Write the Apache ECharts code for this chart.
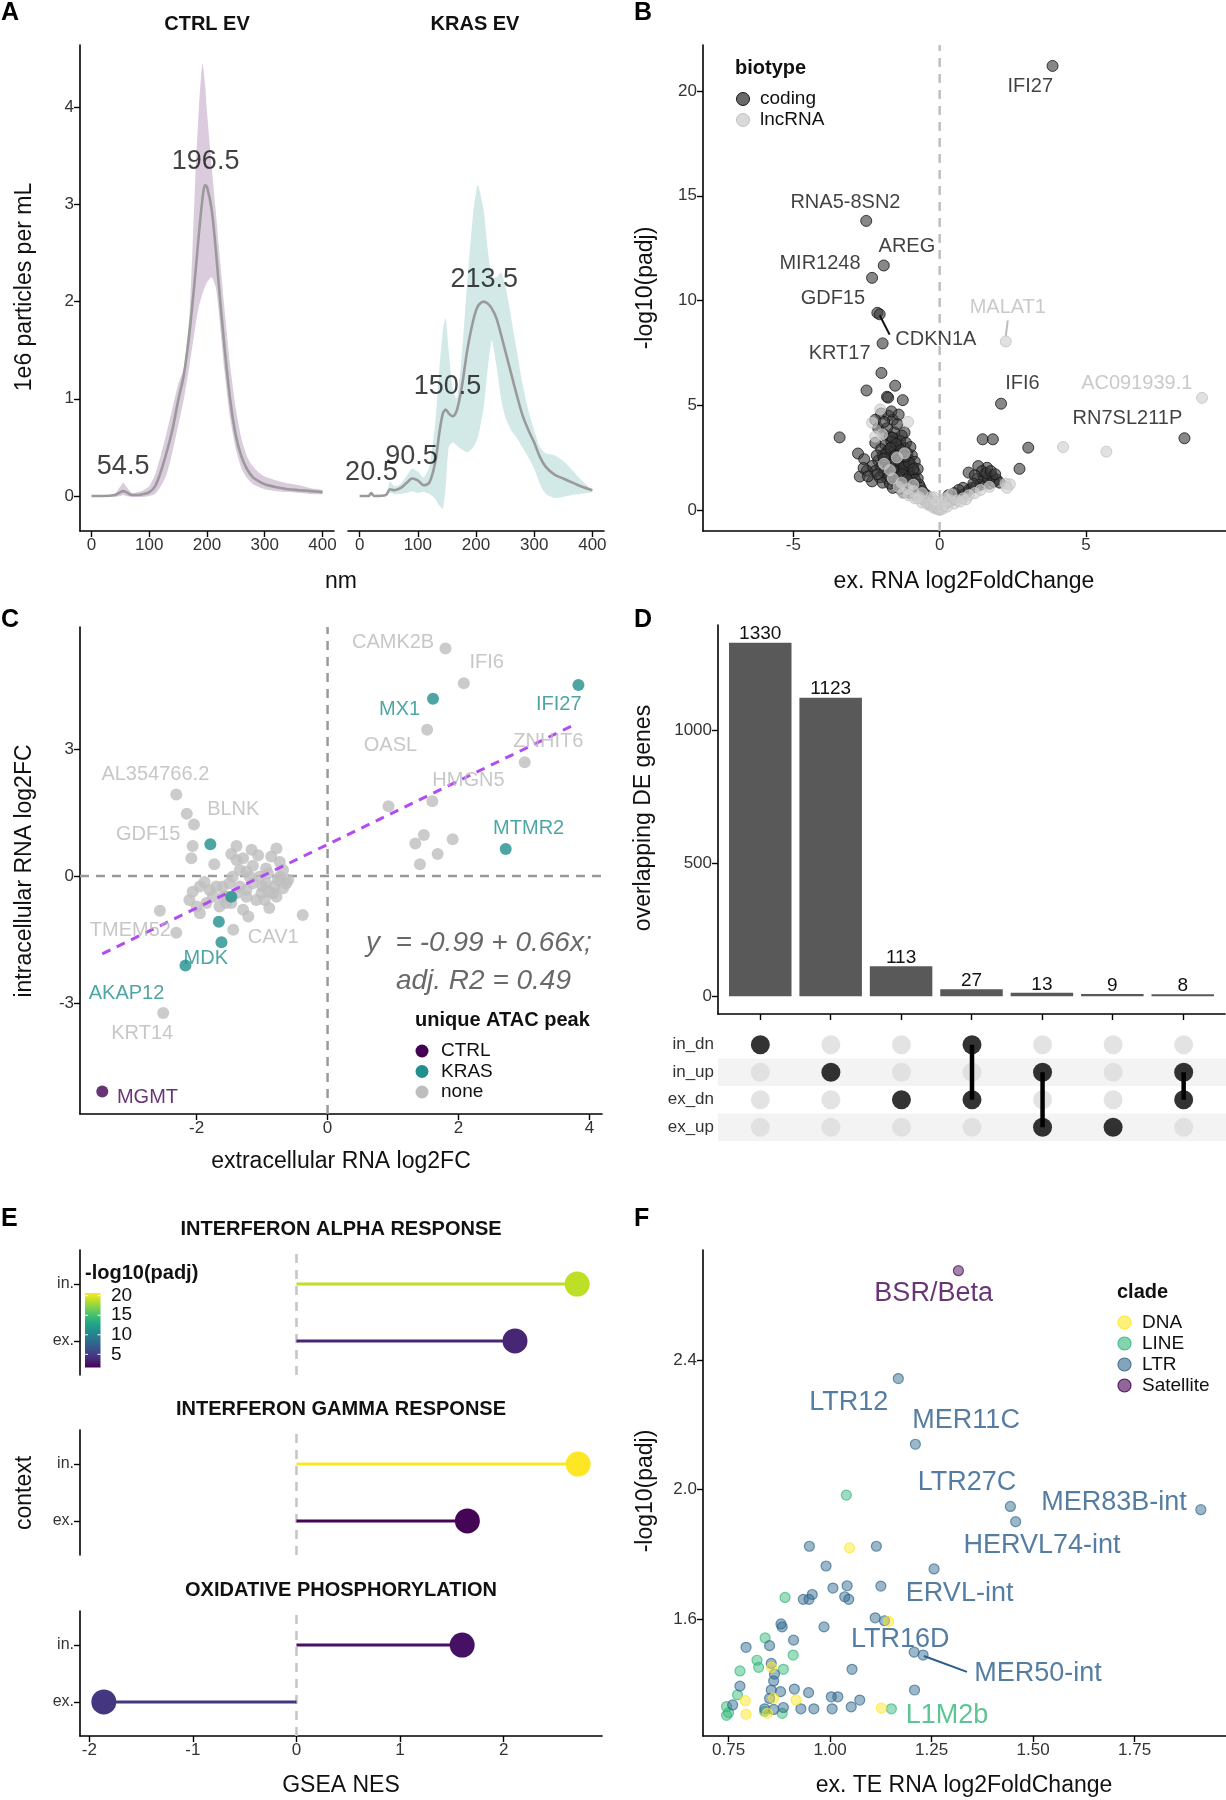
<!DOCTYPE html>
<html><head><meta charset="utf-8">
<script src="https://cdn.jsdelivr.net/npm/echarts@6/dist/echarts.min.js"></script>
<style>html,body{margin:0;padding:0;background:#fff}#c{width:1226px;height:1800px}</style>
</head><body><div id="c"></div><script>
const FONT = '"Liberation Sans", Arial, Helvetica, sans-serif';

// ---------- Panel A : particle size distributions ----------
const ctrlX    = [0,20,40,50,55,60,70,80,90,100,110,120,130,140,150,160,170,180,186,192,196.5,200,208,215,220,230,240,250,260,270,280,290,300,320,340,360,380,400];
const ctrlMean = [0,0,0.01,0.04,0.05,0.04,0.01,0.01,0.02,0.04,0.1,0.25,0.45,0.68,0.98,1.25,1.7,2.3,2.7,3.05,3.2,3.18,2.95,2.55,2.2,1.55,1.0,0.62,0.4,0.27,0.19,0.15,0.12,0.09,0.07,0.06,0.05,0.04];
const ctrlLow  = [0,0,-0.01,0,0.01,0,-0.01,-0.01,-0.01,0,0.02,0.1,0.22,0.45,0.72,1.0,1.35,1.75,1.95,2.08,2.15,2.2,2.25,2.15,1.92,1.3,0.8,0.48,0.28,0.18,0.12,0.09,0.07,0.05,0.04,0.03,0.02,0.02];
const ctrlUp   = [0,0,0.02,0.1,0.14,0.1,0.03,0.04,0.06,0.1,0.22,0.42,0.65,0.9,1.15,1.32,1.9,3.3,4.0,4.45,4.25,3.95,3.4,2.95,2.6,1.95,1.35,0.9,0.58,0.4,0.3,0.24,0.2,0.16,0.13,0.11,0.08,0.06];
const krasX    = [0,15,20,25,45,52,60,70,80,90,100,110,120,130,137,143,148,153,160,167,175,185,195,203,213,220,227,235,243,250,260,270,280,290,300,310,320,335,350,365,380,400];
const krasMean = [0,0,0.03,0,0.01,0.07,0.06,0.08,0.13,0.18,0.16,0.11,0.14,0.35,0.65,0.85,0.89,0.85,0.82,0.88,1.1,1.5,1.8,1.95,2.0,1.98,1.93,1.83,1.66,1.5,1.27,1.04,0.83,0.68,0.55,0.4,0.3,0.22,0.18,0.14,0.1,0.06];
const krasLow  = [0,0,0,0,0,0.03,0.02,0.02,0.03,0.05,0.03,0.04,0.02,-0.03,-0.1,-0.13,0.1,0.5,0.55,0.52,0.48,0.45,0.5,0.6,0.9,1.3,1.6,1.35,1.0,0.82,0.68,0.6,0.5,0.4,0.28,0.12,0.02,-0.02,-0.01,0.01,0.02,0.04];
const krasUp   = [0,0,0.05,0,0.01,0.15,0.1,0.12,0.2,0.28,0.25,0.19,0.3,0.75,1.3,1.7,1.83,1.5,1.1,1.0,1.4,2.2,2.9,3.2,2.95,2.55,2.25,2.25,2.3,2.18,1.85,1.5,1.15,0.88,0.68,0.5,0.44,0.42,0.36,0.27,0.17,0.06];
const ctrlPeaks = [['54.5',54.7,0.30],['196.5',197.6,3.44]];
const krasPeaks = [['20.5',20.2,0.24],['90.5',89.2,0.41],['150.5',151.1,1.125],['213.5',214.1,2.23]];
const aXTicks = [0,100,200,300,400];
const aYTicks = [0,1,2,3,4];

// ---------- Panel B : volcano ----------
const bCoding = [
 [3.86,21.2],[-2.51,13.8],[-1.91,11.67],[-2.31,11.08],[-2.13,9.41],[-2.05,9.34],[-1.95,7.95],
 [2.1,5.07],[8.37,3.42],[-1.99,6.54],[-1.52,5.93],[-2.5,5.7],[-1.8,5.4],[-1.76,5.36],[-1.26,5.24],
 [-3.42,3.46],[1.47,3.37],[1.82,3.37],[3.03,2.97],[2.73,1.96],
 [-2.0,4.6],[-1.75,4.5],[-1.6,4.3],[-1.45,4.1],[-2.1,3.9],[-1.2,3.7],[-1.9,3.6],[-1.7,3.5],[-1.5,3.4],[-1.35,3.3],
 [-2.2,3.2],[-1.85,3.1],[-1.6,3.05],[-1.4,3.0],[-1.2,2.95],[-2.0,2.9],[-1.75,2.85],[-1.55,2.8],[-1.3,2.75],[-1.1,2.7],
 [-2.79,2.69],[-2.58,2.42],[-1.95,2.6],[-1.7,2.55],[-1.45,2.5],[-1.25,2.45],[-1.05,2.4],[-2.1,2.35],[-1.85,2.3],[-1.6,2.25],
 [-1.4,2.2],[-1.15,2.15],[-0.95,2.1],[-2.3,2.1],[-2.0,2.05],[-1.75,2.0],[-1.5,1.95],[-1.3,1.9],[-1.05,1.85],[-0.85,1.8],
 [-2.2,1.85],[-1.9,1.8],[-1.65,1.75],[-1.4,1.7],[-1.2,1.65],[-0.95,1.6],[-0.75,1.5],[-2.49,1.87],[-2.73,1.59],[-2.31,1.36],
 [-2.05,1.55],[-1.8,1.5],[-1.55,1.45],[-1.3,1.4],[-1.1,1.35],[-0.9,1.3],[-0.7,1.2],[-1.95,1.3],[-1.7,1.25],[-1.45,1.2],
 [-1.2,1.15],[-1.0,1.1],[-0.8,1.0],[-0.6,0.9],[-1.6,1.05],[-1.35,1.0],[-1.1,0.95],[-0.9,0.85],[-0.7,0.75],[-0.5,0.65],
 [-1.25,0.85],[-1.0,0.8],[-0.8,0.7],[-0.6,0.6],[-0.4,0.5],[-0.3,0.35],[-0.2,0.25],[-0.5,0.45],[-0.35,0.3],[-0.15,0.15],
 [-0.1,0.1],[-1.55,3.7],[-1.3,3.55],[-1.8,3.9],[-1.65,4.7],[-1.4,4.55],[-2.2,4.3],[-1.9,4.2],[-1.35,2.1],[-1.15,3.2],
 [-0.95,2.6],[-1.0,3.0],[-0.85,2.3],[-0.75,1.95],[-2.6,2.0],[-2.45,1.6],[-1.65,3.25],[-1.45,2.65],[-1.25,2.3],[-1.55,2.05],
 [-1.85,2.65],[-2.15,2.6],[-1.05,1.6],[-0.85,1.45],[-0.65,1.05],[-0.55,0.8],[-0.45,0.7],
 [-1.62,3.45],[-1.48,3.15],[-1.33,2.85],[-1.68,2.95],[-1.52,2.6],[-1.38,2.35],[-1.22,2.05],[-1.68,2.15],[-1.9,2.45],
 [-1.58,1.85],[-1.42,1.55],[-1.28,1.7],[-1.12,1.45],[-1.72,1.6],[-2.12,1.7],[-1.05,2.25],[-0.9,1.95],[-1.18,2.55],
 [0.1,0.15],[0.2,0.3],[0.3,0.4],[0.45,0.5],[0.6,0.6],[0.75,0.7],[0.9,0.8],[1.0,0.95],[1.1,1.05],[1.25,1.1],
 [1.4,1.2],[1.55,1.3],[1.7,1.25],[1.85,1.35],[1.3,1.5],[1.5,1.6],[1.65,1.55],[1.8,1.6],[0.99,1.78],[1.32,2.09],
 [1.62,2.01],[1.45,1.85],[1.2,1.65],[1.95,1.45],[0.5,0.8],[0.3,0.7],[0.8,1.05],[2.05,1.3],[1.6,1.75],[1.15,1.25],
 [0.65,0.95],[1.75,1.85],[1.9,1.7]
];
const bLnc = [
 [2.26,8.04],[8.97,5.35],[4.22,3.0],[5.7,2.78],
 [-2.03,4.8],[-2.31,4.16],[-1.08,4.2],[-1.97,3.6],[-1.46,2.5],[-1.9,2.2],[-1.7,1.9],[-1.3,1.3],[-1.6,1.5],[-1.1,1.0],
 [-0.9,0.9],[-1.05,0.7],[-0.7,0.6],[-0.85,0.55],[-0.5,0.4],[-0.6,0.35],[-0.4,0.25],[-0.3,0.2],[-0.2,0.1],[-0.1,0.05],
 [0,0],[0,0.02],[0.05,0.1],[0.1,0.05],[0.15,0.2],[-0.05,0.3],[0.2,0.55],[-0.2,0.6],[0.35,0.45],[0.5,0.3],
 [0.6,0.45],[0.8,0.55],[1.0,0.7],[0.9,0.5],[1.2,0.8],[1.4,0.95],[2.25,1.25],[2.4,1.22],[2.3,1.05],[1.7,1.1],
 [-1.2,2.7],[-2.2,3.5],[-0.6,0.8],[-0.3,0.6],[0.1,0.4],[0.4,0.75],[-1.4,1.1],[-0.9,1.2],[-1.25,0.8],[-0.75,0.55],
 [0.7,0.4],[-0.15,0.4],[0.25,0.15]
];
const bLabels = [
 ['IFI27',3.1,20.2,'coding'],['RNA5-8SN2',-3.22,14.7,'coding'],['AREG',-1.12,12.6,'coding'],
 ['MIR1248',-4.09,11.76,'coding'],['GDF15',-3.65,10.1,'coding'],['CDKN1A',-0.13,8.15,'coding'],
 ['KRT17',-3.42,7.45,'coding'],['MALAT1',2.33,9.65,'lncRNA'],['IFI6',2.83,6.03,'coding'],
 ['AC091939.1',6.74,6.04,'lncRNA'],['RN7SL211P',6.42,4.34,'coding']
];
const bLeaders = [[[-2.05,9.29],[-1.71,8.37],'coding'],[[2.33,9.05],[2.26,8.3],'lncRNA']];
const bXTicks = [-5,0,5];
const bYTicks = [0,5,10,15,20];

// ---------- Panel C : ex vs in log2FC ----------
const cNone = [
 [-2.31,1.93],[-2.15,1.47],[-2.04,1.22],[-2.06,0.71],[-2.08,0.42],[-1.73,0.28],[-1.39,0.71],[-1.47,0.52],[-1.29,0.42],
 [-1.06,0.49],[-0.78,0.65],[-0.86,0.46],[-1.14,0.24],[-1.24,0.10],[-0.94,0.18],[-1.04,-0.02],[-0.73,-0.02],[-0.81,-0.25],
 [-0.68,-0.29],[-1.14,-0.17],[-1.24,-0.33],[-1.01,-0.41],[-0.89,-0.37],[-0.78,-0.49],[-1.09,-0.57],[-1.24,-0.49],
 [-1.34,-0.25],[-1.5,-0.17],[-1.6,-0.25],[-1.55,-0.49],[-1.88,-0.14],[-1.95,-0.25],[-2.06,-0.37],[-2.11,-0.57],
 [-2.0,-0.72],[-1.95,-0.88],[-1.75,-0.49],[-1.85,-0.64],[-1.65,-0.72],[-1.55,-0.64],[-1.29,-0.80],[-1.21,-0.96],
 [-0.89,-0.76],[-1.44,-1.27],[-0.38,-0.92],[-2.56,-0.82],[-2.31,-1.34],[-1.34,0.14],[-1.45,-0.02],[-0.68,0.14],
 [-1.39,0.38],[-1.16,0.62],[-0.6,-0.09],[-0.76,-0.09],[-0.94,-0.17],[-0.99,-0.25],[-0.63,-0.17],[-1.19,-0.02],
 [-0.73,0.33],[-0.91,0.06],[-0.83,-0.41],[-0.96,-0.57],[-1.6,-0.49],[-1.7,-0.25],[-1.8,-0.33],[-1.47,-0.64],[-1.39,-0.41],
 [1.8,5.38],[2.08,4.56],[1.52,3.46],[3.01,2.69],[1.6,1.77],[0.93,1.65],[1.47,0.97],[1.34,0.77],[1.91,0.87],[1.68,0.52],[1.41,0.28],
 [-2.51,-3.24]
];
const cKras = [[-1.47,-0.49],[-1.79,0.75],[-1.66,-1.08],[-1.62,-1.57],[-2.17,-2.12],[3.83,4.52],[1.61,4.19],[2.72,0.64]];
const cCtrl = [[-3.44,-5.1]];
const cLabels = [
 ['CAMK2B',1.0,5.52,'none'],['IFI6',2.43,5.04,'none'],['MX1',1.10,3.94,'KRAS'],['IFI27',3.53,4.05,'KRAS'],
 ['OASL',0.96,3.08,'none'],['ZNHIT6',3.37,3.18,'none'],['HMGN5',2.15,2.26,'none'],['MTMR2',3.07,1.13,'KRAS'],
 ['AL354766.2',-2.63,2.4,'none'],['BLNK',-1.44,1.58,'none'],['GDF15',-2.74,0.98,'none'],['TMEM52',-3.01,-1.29,'none'],
 ['CAV1',-0.83,-1.46,'none'],['MDK',-1.86,-1.95,'KRAS'],['AKAP12',-3.07,-2.77,'KRAS'],['KRT14',-2.83,-3.73,'none'],
 ['MGMT',-2.75,-5.23,'CTRL']
];
const cFitLine = [[-3.44,-1.84],[3.77,3.58]];
const cEquation = [['y  = -0.99 + 0.66x;',2.31,-1.58],['adj. R2 = 0.49',2.38,-2.48]];
const cXTicks = [-2,0,2,4];
const cYTicks = [-3,0,3];

// ---------- Panel D : upset ----------
const dSets = [['in_dn'],['in_up'],['ex_dn'],['in_dn','ex_dn'],['in_up','ex_up'],['ex_up'],['in_up','ex_dn']];
const dCounts = [1330,1123,113,27,13,9,8];
const dRows = ['ex_up','ex_dn','in_up','in_dn'];
const dYTicks = [0,500,1000];

// ---------- Panel E : GSEA lollipops ----------
const eTerms = ['INTERFERON ALPHA RESPONSE','INTERFERON GAMMA RESPONSE','OXIDATIVE PHOSPHORYLATION'];
const eContext = ['ex.','in.'];
const eNesIn  = [2.71,2.72,1.60];
const eNesEx  = [2.11,1.65,-1.86];
const ePadjIn = [18.8,20.7,2.5];
const ePadjEx = [3.6,1.8,4.6];
const eXTicks = [-2,-1,0,1,2];
const eLegendTicks = [5,10,15,20];

// ---------- Panel F : TE volcano ----------
const fDNA = [[1.048,1.82],[1.144,1.593],[0.856,1.451],[0.791,1.348],[0.861,1.356],[0.916,1.35],[1.126,1.325],[0.793,1.306],[0.846,1.309]];
const fLINE = [[1.040,1.983],[0.889,1.667],[0.84,1.542],[0.909,1.489],[0.82,1.473],[0.824,1.451],[0.778,1.44],[0.885,1.445],[0.772,1.366],[0.745,1.33],[0.75,1.311],[0.745,1.303],[0.882,1.309],[0.839,1.315],[1.151,1.323]];
const fLTR = [[1.168,2.343],[1.21,2.14],[1.444,1.948],[1.913,1.938],[1.457,1.901],[0.949,1.825],[1.114,1.825],[0.99,1.764],[1.256,1.755],
 [1.007,1.696],[1.042,1.703],[1.125,1.702],[0.934,1.661],[0.948,1.661],[0.956,1.676],[1.036,1.669],[1.046,1.661],[1.111,1.604],
 [1.134,1.595],[0.879,1.585],[0.882,1.576],[0.985,1.576],[0.793,1.513],[0.851,1.518],[0.91,1.535],[1.207,1.498],[1.229,1.489],
 [0.855,1.463],[0.863,1.43],[0.861,1.409],[1.054,1.445],[0.778,1.393],[0.878,1.376],[0.855,1.381],[0.851,1.355],[0.912,1.384],
 [0.947,1.373],[1.208,1.381],[1.003,1.36],[1.019,1.36],[1.073,1.35],[0.76,1.335],[1.052,1.329],[0.839,1.323],[0.861,1.321],
 [0.885,1.327],[0.928,1.323],[0.96,1.323],[1.005,1.323]];
const fSat = [[1.316,2.676]];
const fLabels = [['BSR/Beta',1.255,2.605,'Satellite'],['LTR12',1.046,2.27,'LTR'],['MER11C',1.335,2.214,'LTR'],
 ['LTR27C',1.337,2.022,'LTR'],['MER83B-int',1.699,1.96,'LTR'],['HERVL74-int',1.522,1.826,'LTR'],['ERVL-int',1.319,1.679,'LTR'],
 ['LTR16D',1.173,1.537,'LTR'],['MER50-int',1.512,1.433,'LTR'],['L1M2b',1.288,1.303,'LINE']];
const fLeader = [[1.231,1.486],[1.337,1.437]];
const fXTicks = [0.75,1.0,1.25,1.5,1.75];
const fYTicks = [1.6,2.0,2.4];

// ---------- styling ----------
const VIRIDIS = ['#440154','#482475','#414487','#355f8d','#2a788e','#21918c','#22a884','#44bf70','#7ad151','#bddf26','#fde725'];
const cladeColor = {DNA:'#fde725', LINE:'#35b779', LTR:'#31688e', Satellite:'#440154'};
const atacColor = {CTRL:'#440154', KRAS:'#21908c', none:'#bebebe'};
const atacLabelColor = {CTRL:'#440154', KRAS:'#21908c', none:'#b9b9b9'};
const bioFill = {coding:'rgba(55,55,55,0.75)', lncRNA:'rgba(208,208,208,0.8)'};
const bioStroke = {coding:'#151515', lncRNA:'#c2c2c2'};
const bioLabel = {coding:'#111', lncRNA:'#bdbdbd'};
function hexA(h,a){const n=parseInt(h.slice(1),16);return `rgba(${n>>16&255},${n>>8&255},${n&255},${a})`;}

const grids = [
 {left:80, top:45, width:254, height:486},
 {left:348, top:45, width:256, height:486},
 {left:703, top:45, width:523, height:486},
 {left:80, top:627, width:522, height:487},
 {left:718, top:625, width:507, height:389},
 {left:718, top:1031, width:508, height:110},
 {left:80, top:1250, width:522, height:125},
 {left:80, top:1430, width:522, height:125},
 {left:80, top:1611, width:522, height:125},
 {left:703, top:1250, width:523, height:486}
];

function vAxis(gi, min, max, ticks, o) {
  o = o || {};
  return {
    type:'value', gridIndex:gi, min:min, max:max, show:o.show !== false,
    axisLine:{show:o.line !== false, onZero:false, lineStyle:{color:'#000', width:1.6}},
    axisTick:{show:o.tick !== false, length:6, customValues:ticks, lineStyle:{color:'#000', width:1.4}},
    axisLabel:{show:o.label !== false, customValues:ticks, color:'#333', fontSize:o.fs || 17, fontFamily:FONT,
      margin:o.margin || 6, formatter:o.fmt || (v => String(v))},
    splitLine:{show:false}
  };
}

const xAxes = [
 vAxis(0,-20,420,aXTicks),
 vAxis(1,-20,420,aXTicks),
 vAxis(2,-8.09,9.79,bXTicks),
 vAxis(3,-3.78,4.19,cXTicks),
 vAxis(4,0.4,7.6,[1,2,3,4,5,6,7],{label:false}),
 vAxis(5,0.4,7.6,[],{show:false}),
 vAxis(6,-2.09,2.95,[],{show:false}),
 vAxis(7,-2.09,2.95,[],{show:false}),
 vAxis(8,-2.09,2.95,eXTicks),
 vAxis(9,0.687,1.975,fXTicks,{fmt:v=>v.toFixed(2)})
];
const yAxes = [
 vAxis(0,-0.36,4.64,aYTicks),
 vAxis(1,-0.36,4.64,[],{show:false}),
 vAxis(2,-1.01,22.2,bYTicks),
 vAxis(3,-5.63,5.89,cYTicks),
 vAxis(4,-66.5,1396.5,dYTicks),
 vAxis(5,0.5,4.5,[1,2,3,4],{line:false,tick:false,fmt:v=>dRows[v-1],margin:4}),
 vAxis(6,0.4,2.6,[1,2],{fmt:v=>eContext[v-1],fs:16}),
 vAxis(7,0.4,2.6,[1,2],{fmt:v=>eContext[v-1],fs:16}),
 vAxis(8,0.4,2.6,[1,2],{fmt:v=>eContext[v-1],fs:16}),
 vAxis(9,1.239,2.74,fYTicks,{fmt:v=>v.toFixed(1)})
];

const series = [];
function lineSeg(ai, pts, color, width, dashed, z) {
  series.push({type:'line', xAxisIndex:ai, yAxisIndex:ai, data:pts, symbol:'none', silent:true, z:z||2,
    lineStyle:{color:color, width:width, type: dashed ? [9,7] : 'solid'}, animation:false});
}
function textSeries(ai, items, size, extra) {
  series.push({type:'scatter', xAxisIndex:ai, yAxisIndex:ai, symbolSize:1, silent:true, z:10,
    itemStyle:{color:'transparent'},
    data: items.map(a => ({value:[a[1],a[2]], name:a[0], label:{color:a[3]}})),
    label:Object.assign({show:true, position:'inside', formatter:p => p.name, fontSize:size, fontFamily:FONT}, extra || {})});
}
function band(ai, xs, lo, up, fill) {
  series.push({type:'custom', xAxisIndex:ai, yAxisIndex:ai, silent:true, z:1,
    data: xs.map((x,i) => [x, lo[i], up[i]]),
    renderItem: function(params, api) {
      if (params.dataIndex !== 0) return null;
      const pts = [];
      for (let i = 0; i < xs.length; i++) pts.push(api.coord([xs[i], up[i]]));
      for (let i = xs.length - 1; i >= 0; i--) pts.push(api.coord([xs[i], lo[i]]));
      return {type:'polygon', shape:{points:pts, smooth:0.2}, style:{fill:fill}};
    }});
}

// Panel A
band(0, ctrlX, ctrlLow, ctrlUp, 'rgba(68,1,84,0.2)');
series.push({type:'line', xAxisIndex:0, yAxisIndex:0, data:ctrlX.map((x,i)=>[x,ctrlMean[i]]), symbol:'none', smooth:0.3, silent:true, z:3, lineStyle:{color:'#9a9a9a', width:2.6}});
band(1, krasX, krasLow, krasUp, 'rgba(33,144,140,0.2)');
series.push({type:'line', xAxisIndex:1, yAxisIndex:1, data:krasX.map((x,i)=>[x,krasMean[i]]), symbol:'none', smooth:0.3, silent:true, z:3, lineStyle:{color:'#9a9a9a', width:2.6}});
textSeries(0, ctrlPeaks.map(p => [p[0],p[1],p[2],'#111']), 27);
textSeries(1, krasPeaks.map(p => [p[0],p[1],p[2],'#111']), 27);

// Panel B
lineSeg(2, [[0,-1.01],[0,22.2]], '#bdbdbd', 2.4, true, 1);
series.push({type:'scatter', xAxisIndex:2, yAxisIndex:2, data:bCoding, symbolSize:11, silent:true, z:3,
  itemStyle:{color:bioFill.coding, borderColor:bioStroke.coding, borderWidth:1}});
series.push({type:'scatter', xAxisIndex:2, yAxisIndex:2, data:bLnc, symbolSize:11, silent:true, z:4,
  itemStyle:{color:bioFill.lncRNA, borderColor:bioStroke.lncRNA, borderWidth:1}});
bLeaders.forEach(l => lineSeg(2, [l[0], l[1]], l[2] === 'coding' ? '#111' : '#bdbdbd', 2, false, 5));
textSeries(2, bLabels.map(l => [l[0], l[1], l[2], bioLabel[l[3]]]), 20);

// Panel C
lineSeg(3, [[0,-5.63],[0,5.89]], '#9a9a9a', 2.5, true, 1);
lineSeg(3, [[-3.78,0],[4.19,0]], '#9a9a9a', 2.5, true, 1);
series.push({type:'scatter', xAxisIndex:3, yAxisIndex:3, data:cNone, symbolSize:12, silent:true, z:3, itemStyle:{color:atacColor.none}});
series.push({type:'scatter', xAxisIndex:3, yAxisIndex:3, data:cKras, symbolSize:12, silent:true, z:4, itemStyle:{color:atacColor.KRAS}});
series.push({type:'scatter', xAxisIndex:3, yAxisIndex:3, data:cCtrl, symbolSize:12, silent:true, z:4, itemStyle:{color:atacColor.CTRL}});
lineSeg(3, cFitLine, '#b24cf2', 3, true, 5);
textSeries(3, cLabels.map(l => [l[0], l[1], l[2], atacLabelColor[l[3]]]), 20);
textSeries(3, cEquation.map(e => [e[0], e[1], e[2], '#444']), 28, {fontStyle:'italic'});

// Panel D
series.push({type:'bar', xAxisIndex:4, yAxisIndex:4, data:dCounts.map((c,i)=>[i+1,c]), barWidth:62.5, silent:true,
  itemStyle:{color:'#595959'}, label:{show:true, position:'top', distance:-1, fontSize:19, color:'#111', fontFamily:FONT}});
series.push({type:'scatter', xAxisIndex:5, yAxisIndex:5, data:[[0.4,0.5]], symbolSize:0, silent:true, z:0,
  markArea:{silent:true, itemStyle:{color:'#f3f3f3'}, label:{show:false},
    data:[[{yAxis:0.5},{yAxis:1.5}],[{yAxis:2.5},{yAxis:3.5}]]}});
const dOff = [], dOn = [];
dSets.forEach((s,i) => dRows.forEach((r,j) => (s.indexOf(r) >= 0 ? dOn : dOff).push([i+1, j+1])));
series.push({type:'scatter', xAxisIndex:5, yAxisIndex:5, data:dOff, symbolSize:19, silent:true, z:2, itemStyle:{color:'#dcdcdc'}});
dSets.forEach((s,i) => {
  if (s.length > 1) {
    const rr = s.map(r => dRows.indexOf(r) + 1);
    lineSeg(5, [[i+1, Math.min(...rr)], [i+1, Math.max(...rr)]], '#000', 4.5, false, 3);
  }
});
series.push({type:'scatter', xAxisIndex:5, yAxisIndex:5, data:dOn, symbolSize:19, silent:true, z:4, itemStyle:{color:'#000'}});

// Panel E
const eSeriesIdx = [];
eTerms.forEach((t,k) => {
  const ai = 6 + k;
  lineSeg(ai, [[0,0.4],[0,2.6]], '#c4c4c4', 2.5, true, 1);
  eSeriesIdx.push(series.length);
  series.push({type:'custom', xAxisIndex:ai, yAxisIndex:ai, silent:true, z:3,
    data:[[eNesEx[k],1,ePadjEx[k]],[eNesIn[k],2,ePadjIn[k]]],
    encode:{x:0, y:1},
    renderItem:function(params, api) {
      const v = api.value(0), r = api.value(1);
      const p0 = api.coord([0, r]), p1 = api.coord([v, r]);
      const c = api.visual('color');
      return {type:'group', children:[
        {type:'line', shape:{x1:p0[0], y1:p0[1], x2:p1[0], y2:p1[1]}, style:{stroke:c, lineWidth:3}},
        {type:'circle', shape:{cx:p1[0], cy:p1[1], r:12.5}, style:{fill:c}}
      ]};
    }});
});

// Panel F
[['LINE',fLINE],['LTR',fLTR],['DNA',fDNA],['Satellite',fSat]].forEach(([k,d]) => {
  series.push({type:'scatter', xAxisIndex:9, yAxisIndex:9, data:d, symbolSize:10, silent:true, z:3,
    itemStyle:{color:hexA(cladeColor[k],0.6), borderColor:hexA(cladeColor[k],0.85), borderWidth:1.2}});
});
lineSeg(9, fLeader, '#2a5d8a', 2, false, 5);
textSeries(9, fLabels.map(l => [l[0], l[1], l[2], l[3] === 'LTR' ? '#2a5d8a' : cladeColor[l[3]]]), 27);

// ---------- graphics: titles, axis names, legends ----------
const G = [];
function txt(s, x, y, size, o) {
  o = o || {};
  G.push({type:'text', x:x, y:y, rotation:o.rot || 0, silent:true, z:100,
    style:{text:s, fill:o.color || '#111', font:(o.style || '') + ' ' + (o.bold ? 'bold ' : '') + size + 'px ' + FONT,
      textAlign:o.align || 'center', align:o.align || 'center', textVerticalAlign:'middle', verticalAlign:'middle'}});
}
const R = Math.PI / 2;
[['A',1,13],['B',634,13],['C',1,620],['D',634,620],['E',1,1219],['F',634,1219]].forEach(p => txt(p[0], p[1], p[2], 25, {bold:true, align:'left', color:'#000'}));
txt('CTRL EV', 207, 24, 20, {bold:true});
txt('KRAS EV', 475, 24, 20, {bold:true});
eTerms.forEach((t,k) => txt(t, 341, [1229,1409,1590][k], 20, {bold:true}));
txt('nm', 341, 582, 23);
txt('1e6 particles per mL', 25, 287, 23, {rot:R});
txt('ex. RNA log2FoldChange', 964, 582, 23);
txt('-log10(padj)', 646, 288, 23, {rot:R});
txt('extracellular RNA log2FC', 341, 1162, 23);
txt('intracellular RNA log2FC', 25, 871, 23, {rot:R});
txt('overlapping DE genes', 644, 818, 23, {rot:R});
txt('GSEA NES', 341, 1786, 23);
txt('context', 25, 1493, 23, {rot:R});
txt('ex. TE RNA log2FoldChange', 964, 1786, 23);
txt('-log10(padj)', 646, 1491, 23, {rot:R});

// legend B
txt('biotype', 735, 68, 20, {bold:true, align:'left'});
['coding','lncRNA'].forEach((k,i) => {
  G.push({type:'circle', silent:true, z:100, shape:{cx:743, cy:99 + i*21, r:6.5}, style:{fill:bioFill[k], stroke:bioStroke[k], lineWidth:1}});
  txt(k, 760, 99 + i*21, 19, {align:'left'});
});
// legend C
txt('unique ATAC peak', 415, 1020, 20, {bold:true, align:'left'});
['CTRL','KRAS','none'].forEach((k,i) => {
  G.push({type:'circle', silent:true, z:100, shape:{cx:422, cy:1051 + i*20.5, r:6.5}, style:{fill:atacColor[k]}});
  txt(k, 441, 1051 + i*20.5, 19, {align:'left'});
});
// legend F
txt('clade', 1117, 1292, 20, {bold:true, align:'left'});
['DNA','LINE','LTR','Satellite'].forEach((k,i) => {
  G.push({type:'circle', silent:true, z:100, shape:{cx:1124.5, cy:1322.5 + i*21, r:6.5}, style:{fill:hexA(cladeColor[k],0.6), stroke:hexA(cladeColor[k],0.85), lineWidth:1.2}});
  txt(k, 1142, 1322.5 + i*21, 19, {align:'left'});
});
// legend E (colour bar)
const cbMin = 1.6, cbMax = 20.7, cbTop = 1293, cbH = 74.6, cbX = 85, cbW = 15.5;
txt('-log10(padj)', 85, 1273, 20, {bold:true, align:'left'});
G.push({type:'rect', silent:true, z:100, shape:{x:cbX, y:cbTop, width:cbW, height:cbH},
  style:{fill:new echarts.graphic.LinearGradient(0,1,0,0, VIRIDIS.map((c,i)=>({offset:i/(VIRIDIS.length-1), color:c})))}});
eLegendTicks.forEach(v => {
  const y = cbTop + cbH - (v - cbMin) / (cbMax - cbMin) * cbH;
  G.push({type:'line', silent:true, z:101, shape:{x1:cbX, y1:y, x2:cbX+3, y2:y}, style:{stroke:'#fff', lineWidth:1}});
  G.push({type:'line', silent:true, z:101, shape:{x1:cbX+cbW-3, y1:y, x2:cbX+cbW, y2:y}, style:{stroke:'#fff', lineWidth:1}});
  txt(String(v), 111, y, 19, {align:'left'});
});

const chart = echarts.init(document.getElementById('c'), null, {renderer:'canvas'});
chart.setOption({
  animation:false,
  backgroundColor:'#fff',
  textStyle:{fontFamily:FONT},
  grid:grids,
  xAxis:xAxes,
  yAxis:yAxes,
  visualMap:[{type:'continuous', show:false, seriesIndex:eSeriesIdx, dimension:2, min:cbMin, max:cbMax, inRange:{color:VIRIDIS}}],
  series:series,
  graphic:G
});
</script></body></html>
